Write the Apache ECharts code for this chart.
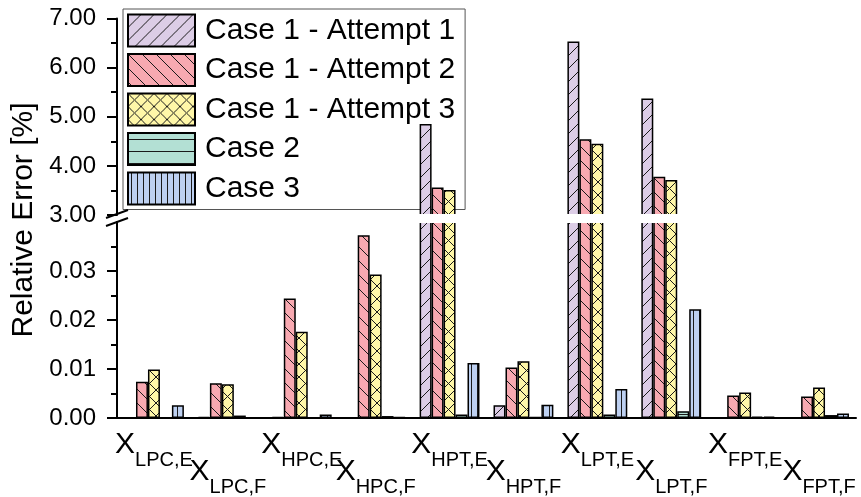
<!DOCTYPE html>
<html>
<head>
<meta charset="utf-8">
<script src="https://cdn.jsdelivr.net/npm/echarts@6/dist/echarts.min.js"></script>
<style>
html,body{margin:0;padding:0;background:#fff;}
#chart{width:861px;height:497px;}
</style>
</head>
<body>
<div id="chart"></div>
<script>
// ---- data ----
const categories = ['LPC,E','LPC,F','HPC,E','HPC,F','HPT,E','HPT,F','LPT,E','LPT,F','FPT,E','FPT,F'];
const seriesNames = ['Case 1 - Attempt 1','Case 1 - Attempt 2','Case 1 - Attempt 3','Case 2','Case 3'];
const attempt1 = [0.0000, 0.0002, 0.0002, 0.0001, 4.85, 0.0026, 6.53, 5.37, 0.0000, 0.0000];
const attempt2 = [0.0074, 0.0071, 0.0244, 0.0373, 3.56, 0.0103, 4.54, 3.78, 0.0046, 0.0044];
const attempt3 = [0.0099, 0.0069, 0.0176, 0.0293, 3.51, 0.0116, 4.45, 3.71, 0.0052, 0.0062];
const case2    = [0.0001, 0.0005, 0.0001, 0.0004, 0.0007, 0.0002, 0.0007, 0.0014, 0.0003, 0.0006];
const case3    = [0.0026, 0.0001, 0.0007, 0.0002, 0.0112, 0.0027, 0.0059, 0.0222, 0.0003, 0.0009];
const upperAxis = {min: 3, max: 7, interval: 1};
const lowerAxis = {min: 0, max: 0.04, interval: 0.01};
const yTitle = 'Relative Error [%]';

const allData = [attempt1, attempt2, attempt3, case2, case3];
const FONT = 'Liberation Sans, Arial, Helvetica, sans-serif';

function makePattern(bg, type, size) {
  const c = document.createElement('canvas');
  c.width = size; c.height = size;
  const g = c.getContext('2d');
  g.fillStyle = bg; g.fillRect(0, 0, size, size);
  g.strokeStyle = '#1a1a1a'; g.lineWidth = 1;
  g.beginPath();
  if (type === 'slash' || type === 'cross') {
    for (let k = -1; k <= 1; k++) { g.moveTo(k * size, size); g.lineTo(k * size + size, 0); }
  }
  if (type === 'back' || type === 'cross') {
    for (let k = -1; k <= 1; k++) { g.moveTo(k * size, 0); g.lineTo(k * size + size, size); }
  }
  if (type === 'horiz') { g.moveTo(0, size / 2 + 0.5); g.lineTo(size, size / 2 + 0.5); }
  if (type === 'vert') { g.moveTo(size / 2 + 0.5, 0); g.lineTo(size / 2 + 0.5, size); }
  g.stroke();
  return {image: c, repeat: 'repeat'};
}

const fills = [
  makePattern('#dccde6', 'slash', 13),
  makePattern('#f8a9b1', 'back', 14),
  makePattern('#fff7a8', 'cross', 13),
  makePattern('#b3e0d4', 'horiz', 12),
  makePattern('#bdd0f1', 'vert', 6)
];

const chart = echarts.init(document.getElementById('chart'), null, {renderer: 'canvas'});

const labelRich = {
  x: {fontSize: 30, lineHeight: 30, verticalAlign: 'top', color: '#000', fontFamily: FONT},
  s: {fontSize: 20, lineHeight: 20, padding: [20, 0, 0, 0], verticalAlign: 'top', color: '#000', fontFamily: FONT}
};
const labelFmt = v => '{x|X}{s|' + v + '}';

const series = [];
seriesNames.forEach((name, i) => {
  const style = {color: fills[i], borderColor: '#000', borderWidth: 1.5};
  series.push({
    name, type: 'bar', xAxisIndex: 1, yAxisIndex: 1, data: allData[i],
    barCategoryGap: '19%', barGap: '0%', itemStyle: style, clip: true, z: 2
  });
  series.push({
    name, type: 'bar', xAxisIndex: 0, yAxisIndex: 0,
    data: allData[i].map(v => v >= upperAxis.min ? v : '-'),
    barCategoryGap: '19%', barGap: '0%', itemStyle: style, clip: true, z: 2
  });
});

const yCommon = {
  type: 'value',
  splitLine: {show: false},
  axisLine: {show: true, lineStyle: {color: '#000', width: 2}},
  axisTick: {show: true, length: 10, lineStyle: {color: '#000', width: 2}},
  minorTick: {show: true, splitNumber: 2, length: 6, lineStyle: {color: '#000', width: 2}},
  axisLabel: {fontSize: 24, color: '#000', margin: 21, fontFamily: FONT, formatter: v => v.toFixed(2)}
};

chart.setOption({
  animation: false,
  textStyle: {fontFamily: FONT},
  grid: [
    {left: 117, right: 5, top: 18.5, height: 196.5},
    {left: 117, right: 5, top: 222, height: 197.3}
  ],
  legend: {
    left: 123, top: 9, orient: 'vertical', icon: 'rect',
    itemWidth: 67, itemHeight: 32, itemGap: 5.5,
    padding: [4.5, 10, 4, 4],
    borderColor: '#555', borderWidth: 1, backgroundColor: 'transparent',
    itemStyle: {borderColor: '#000', borderWidth: 2},
    textStyle: {fontSize: 30, lineHeight: 32, color: '#000', fontFamily: FONT, padding: [0, 0, 0, 5]},
    data: seriesNames, z: 1, selectedMode: false
  },
  xAxis: [
    {gridIndex: 0, type: 'category', data: categories, show: false},
    {gridIndex: 1, type: 'category', data: categories,
      axisLine: {lineStyle: {color: '#000', width: 2}},
      axisTick: {alignWithLabel: true, interval: 0, length: 9, lineStyle: {color: '#000', width: 2}},
      axisLabel: {interval: (i) => i % 2 === 0, margin: 12, formatter: labelFmt, rich: labelRich}},
    {gridIndex: 1, type: 'category', data: categories, position: 'bottom',
      axisLine: {show: false}, axisTick: {show: false},
      axisLabel: {interval: (i) => i % 2 === 1, margin: 39, formatter: labelFmt, rich: labelRich}}
  ],
  yAxis: [
    Object.assign({}, yCommon, {gridIndex: 0, min: upperAxis.min, max: upperAxis.max, interval: upperAxis.interval}),
    Object.assign({}, yCommon, {gridIndex: 1, min: lowerAxis.min, max: lowerAxis.max, interval: lowerAxis.interval,
      axisLabel: Object.assign({}, yCommon.axisLabel, {showMaxLabel: false})})
  ],
  series,
  graphic: [
    {type: 'rect', shape: {x: 119, y: 214, width: 742, height: 9}, style: {fill: '#fff'}, z: 100},
    {type: 'rect', shape: {x: 100, y: 220.5, width: 16, height: 4}, style: {fill: '#fff'}, z: 100},
    {type: 'line', shape: {x1: 106, y1: 218, x2: 128, y2: 210}, style: {stroke: '#000', lineWidth: 2}, z: 101},
    {type: 'line', shape: {x1: 106, y1: 226, x2: 128, y2: 218}, style: {stroke: '#000', lineWidth: 2}, z: 101},
    {type: 'text', x: 24, y: 220, rotation: Math.PI / 2,
      style: {text: yTitle, fontSize: 30, fill: '#000', align: 'center', verticalAlign: 'middle', fontFamily: FONT}, z: 100}
  ]
});
</script>
</body>
</html>
